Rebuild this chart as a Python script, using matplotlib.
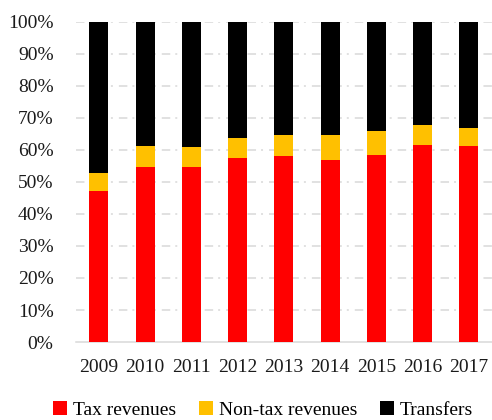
import matplotlib
matplotlib.use("Agg")
import matplotlib.pyplot as plt
from matplotlib.patches import Patch
import numpy as np

plt.rcParams['font.family'] = ['Liberation Serif', 'DejaVu Serif']
plt.rcParams['lines.scale_dashes'] = False

years = ['2009', '2010', '2011', '2012', '2013', '2014', '2015', '2016', '2017']
tax = [47.2, 54.8, 54.6, 57.6, 58.2, 56.8, 58.5, 61.7, 61.1]
nontax = [5.7, 6.5, 6.2, 6.15, 6.5, 7.8, 7.3, 6.1, 5.9]
transfers = [100 - a - b for a, b in zip(tax, nontax)]

series_names = ['Tax revenues', 'Non-tax revenues', 'Transfers']
colors = ['#ff0000', '#ffc000', '#000000']

fig = plt.figure(figsize=(4.92, 4.20), dpi=100)
ax = fig.add_axes([0.154, 0.1857, 0.846, 0.762])

x = np.arange(len(years))
w = 0.41
bottom = np.zeros(len(years))
for vals, c in zip([tax, nontax, transfers], colors):
    ax.bar(x, vals, w, bottom=bottom, color=c, zorder=3)
    bottom += np.array(vals)

ax.set_xlim(-0.5, len(years) - 0.5)
ax.set_ylim(0, 100)
ax.set_yticks(np.arange(0, 101, 10))
ax.set_yticklabels([f'{v}%' for v in range(0, 101, 10)])
ax.set_xticks(x)
ax.set_xticklabels(years)
ax.tick_params(axis='both', length=0, labelsize=14, colors='#1a1a1a')
ax.tick_params(axis='y', pad=16)
ax.tick_params(axis='x', pad=12)

for v in range(10, 101, 10):
    ax.axhline(v, color='#d9d9d9', lw=1.1, dashes=(6.1, 3.6, 1.44, 4.3), zorder=1)

for s in ['top', 'right', 'left']:
    ax.spines[s].set_visible(False)
ax.spines['bottom'].set_color('#d9d9d9')
ax.spines['bottom'].set_linewidth(1.1)

handles = [Patch(facecolor=c, edgecolor='none') for c in colors]
fig.legend(handles, series_names, loc='center', bbox_to_anchor=(0.535, 0.024),
           ncol=3, frameon=False, fontsize=14, handlelength=0.7, handleheight=0.7,
           handletextpad=0.3, columnspacing=1.2)

fig.savefig('out.png', dpi=100)
